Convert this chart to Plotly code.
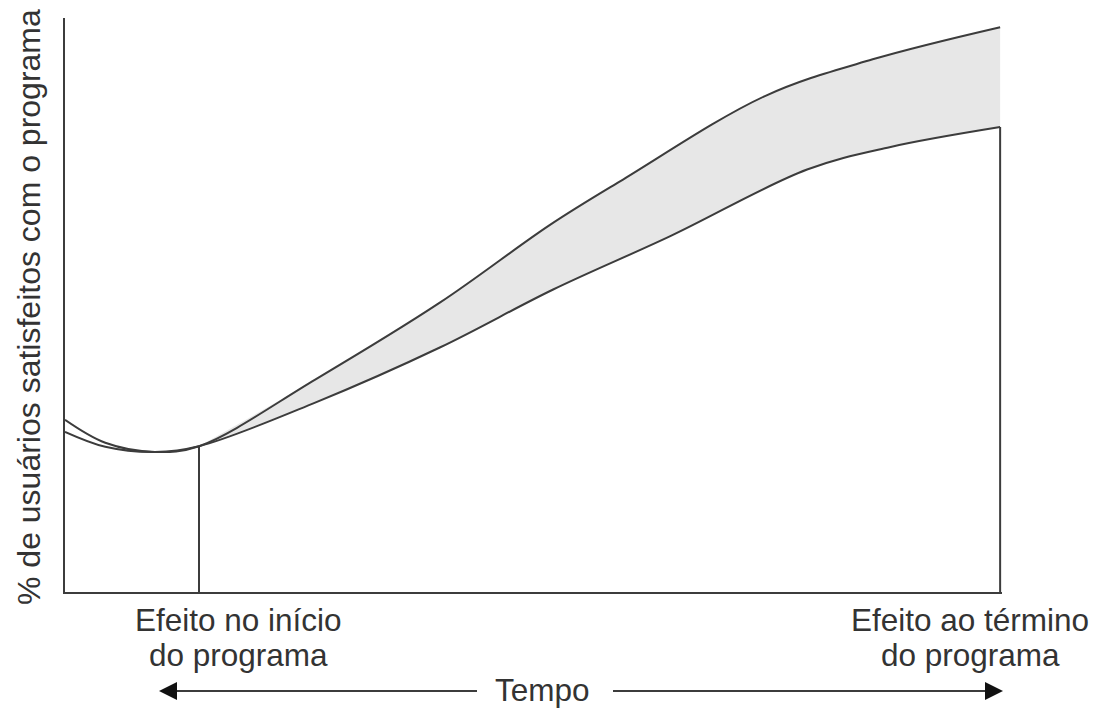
import plotly.graph_objects as go

# Curva superior e inferior da satisfação ao longo do tempo
tempo_sup = [0, 0.43, 0.96, 1.43, 2.67, 4.0, 5.18, 5.96, 7.47, 8.62, 9.98]
satisf_sup = [30.0, 26.0, 24.4, 25.4, 37.0, 50.4, 64.0, 71.9, 86.4, 92.8, 98.4]

tempo_inf = [0, 0.43, 0.96, 1.43, 2.67, 4.0, 5.21, 6.46, 7.92, 8.80, 9.98]
satisf_inf = [27.9, 25.3, 24.4, 25.4, 33.0, 42.6, 52.7, 62.0, 73.6, 77.5, 81.0]

# Índice do ponto onde o programa começa (início da faixa sombreada)
inicio = 3

titulo_y = "% de usuários satisfeitos com o programa"
rotulo_inicio = ["Efeito no início", "do programa"]
rotulo_fim = ["Efeito ao término", "do programa"]
rotulo_tempo = "Tempo"

W, H = 1095, 709
L, R, T, B = 65, 93, 18, 117
pw, ph = W - L - R, H - T - B

line_col = "#3c3c3c"
family = "Liberation Sans, Arial, sans-serif"
font = dict(family=family, size=31.5, color="#333333")
font_y = dict(family=family, size=32, color="#333333")


def px_x(px):
    return (px - L) / pw


def px_y(py):
    return (H - B - py) / ph


fig = go.Figure()

# Faixa sombreada entre as curvas a partir do início do programa
fig.add_trace(go.Scatter(
    x=tempo_inf[inicio:], y=satisf_inf[inicio:], mode="lines",
    line=dict(width=0, shape="spline", color="rgba(0,0,0,0)"),
    hoverinfo="skip", showlegend=False))
fig.add_trace(go.Scatter(
    x=tempo_sup[inicio:], y=satisf_sup[inicio:], mode="lines",
    line=dict(width=0, shape="spline", color="rgba(0,0,0,0)"),
    fill="tonexty", fillcolor="#e7e7e7",
    hoverinfo="skip", showlegend=False))

# Curvas
for xs, ys in [(tempo_sup, satisf_sup), (tempo_inf, satisf_inf)]:
    fig.add_trace(go.Scatter(
        x=xs, y=ys, mode="lines",
        line=dict(width=2, shape="spline", color=line_col),
        showlegend=False))

# Linhas verticais no início e no término do programa
for xv, yv in [(tempo_inf[inicio], satisf_inf[inicio]), (tempo_inf[-1], satisf_inf[-1])]:
    fig.add_trace(go.Scatter(
        x=[xv, xv], y=[0, yv], mode="lines",
        line=dict(width=2, color=line_col), showlegend=False))

annotations = []
# Título do eixo vertical
annotations.append(dict(
    text=titulo_y, xref="paper", yref="paper",
    x=px_x(29), y=px_y(307), showarrow=False, textangle=-90,
    xanchor="center", yanchor="middle", font=font_y))

# Rótulos inferiores
for cx, linhas in [(238, rotulo_inicio), (970, rotulo_fim)]:
    for cy, txt in zip([620, 655], linhas):
        annotations.append(dict(
            text=txt, xref="paper", yref="paper",
            x=px_x(cx), y=px_y(cy), showarrow=False,
            xanchor="center", yanchor="middle", font=font))

annotations.append(dict(
    text=rotulo_tempo, xref="paper", yref="paper",
    x=px_x(542), y=px_y(690), showarrow=False,
    xanchor="center", yanchor="middle", font=font))

# Setas do eixo do tempo
ya = px_y(691)
shapes = [
    dict(type="line", xref="paper", yref="paper",
         x0=px_x(170), x1=px_x(477), y0=ya, y1=ya,
         line=dict(color=line_col, width=2)),
    dict(type="line", xref="paper", yref="paper",
         x0=px_x(613), x1=px_x(990), y0=ya, y1=ya,
         line=dict(color=line_col, width=2)),
    dict(type="path", xref="paper", yref="paper",
         path=f"M {px_x(159)} {ya} L {px_x(177)} {px_y(682)} L {px_x(177)} {px_y(700)} Z",
         fillcolor="#111111", line=dict(width=0)),
    dict(type="path", xref="paper", yref="paper",
         path=f"M {px_x(1003)} {ya} L {px_x(985)} {px_y(682)} L {px_x(985)} {px_y(700)} Z",
         fillcolor="#111111", line=dict(width=0)),
]

fig.update_layout(
    width=W, height=H,
    margin=dict(l=L, r=R, t=T, b=B),
    paper_bgcolor="white", plot_bgcolor="white",
    annotations=annotations, shapes=shapes,
    xaxis=dict(range=[0, 10], showgrid=False, zeroline=False,
               showticklabels=False, ticks="", showline=True,
               linecolor=line_col, linewidth=2),
    yaxis=dict(range=[0, 100], showgrid=False, zeroline=False,
               showticklabels=False, ticks="", showline=True,
               linecolor=line_col, linewidth=2),
)

fig.write_html("out.html")
